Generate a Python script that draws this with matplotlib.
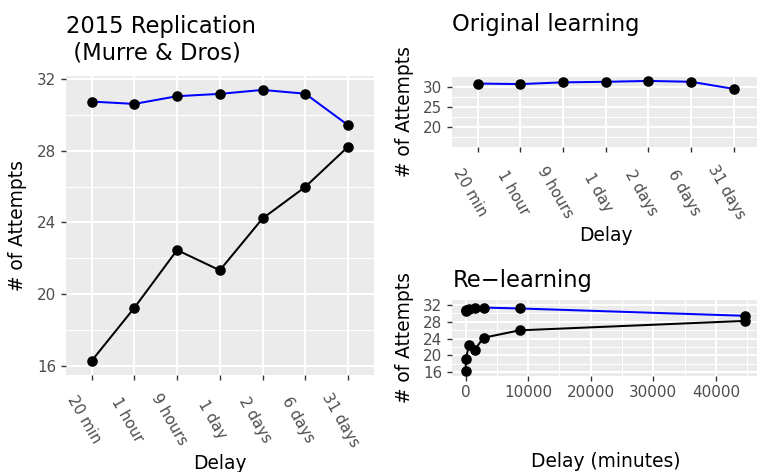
import matplotlib
matplotlib.use("Agg")
import matplotlib.pyplot as plt
from matplotlib.ticker import FixedLocator, MultipleLocator

# Retention delays and mean number of attempts per condition
delays = ["20 min", "1 hour", "9 hours", "1 day", "2 days", "6 days", "31 days"]
delay_minutes = [20, 60, 540, 1440, 2880, 8640, 44640]
original = [30.74, 30.61, 31.04, 31.17, 31.39, 31.18, 29.43]
relearning = [16.28, 19.24, 22.46, 21.33, 24.22, 25.98, 28.22]

plt.rcParams["font.family"] = ["DejaVu Sans"]

W, H = 757, 472
fig = plt.figure(figsize=(W / 100, H / 100), dpi=100)

PANEL = "#EBEBEB"
TICK_COL = "#333333"
LABEL_COL = "#4D4D4D"
TITLE_FS = 16.3
AXTITLE_FS = 13.4
TICK_FS = 10.9
LW = 1.45
MS = 6.6


def px_axes(x0, y0, x1, y1):
    return fig.add_axes([x0 / W, 1 - y1 / H, (x1 - x0) / W, (y1 - y0) / H])


def style(ax):
    ax.set_facecolor(PANEL)
    for s in ax.spines.values():
        s.set_visible(False)
    ax.set_axisbelow(True)
    ax.grid(which="major", color="white", linewidth=1.5)
    ax.grid(which="minor", color="white", linewidth=0.75)
    ax.tick_params(which="major", length=3.6, width=1.0, color=TICK_COL,
                   labelcolor=LABEL_COL, labelsize=TICK_FS, pad=3.4)
    ax.tick_params(which="minor", length=0)


def category_axis(ax):
    ax.set_xlim(-0.6, len(delays) - 0.4)
    ax.set_xticks(range(len(delays)))
    ax.set_xticklabels([""] * len(delays))
    for i, lab in enumerate(delays):
        ax.annotate(lab, xy=(i, 0), xycoords=ax.get_xaxis_transform(),
                    xytext=(-5.4, -32.6), textcoords="offset points",
                    rotation=-60, rotation_mode="anchor", ha="center",
                    va="center", fontsize=TICK_FS, color=LABEL_COL)


def draw_pair(ax, x):
    ax.plot(x, original, color="#0000FF", lw=LW, zorder=2)
    ax.plot(x, relearning, color="black", lw=LW, zorder=2)
    ax.plot(x, original, "o", color="black", ms=MS, zorder=3)
    ax.plot(x, relearning, "o", color="black", ms=MS, zorder=3)


# Left panel: both learning phases by delay category
ax1 = px_axes(66, 76.3, 373.6, 374.5)
style(ax1)
draw_pair(ax1, range(len(delays)))
category_axis(ax1)
ax1.set_ylim(15.52, 32.15)
ax1.yaxis.set_major_locator(FixedLocator([16, 20, 24, 28, 32]))
ax1.yaxis.set_minor_locator(FixedLocator([18, 22, 26, 30]))

# Top right: original learning only
ax2 = px_axes(452, 76, 759.4, 147.3)
style(ax2)
ax2.plot(range(len(delays)), original, color="#0000FF", lw=LW, zorder=2)
ax2.plot(range(len(delays)), original, "o", color="black", ms=MS, zorder=3)
category_axis(ax2)
ax2.set_ylim(15.07, 32.6)
ax2.yaxis.set_major_locator(FixedLocator([20, 25, 30]))
ax2.yaxis.set_minor_locator(FixedLocator([17.5, 22.5, 27.5, 32.5]))

# Bottom right: both phases against delay in minutes
ax3 = px_axes(451.7, 300, 759, 375.7)
style(ax3)
draw_pair(ax3, delay_minutes)
ax3.set_xlim(-2211, 46871)
ax3.set_ylim(15.19, 33.19)
ax3.xaxis.set_major_locator(MultipleLocator(10000))
ax3.xaxis.set_minor_locator(FixedLocator([5000, 15000, 25000, 35000, 45000]))
ax3.yaxis.set_major_locator(FixedLocator([16, 20, 24, 28, 32]))
ax3.yaxis.set_minor_locator(FixedLocator([18, 22, 26, 30]))

# Titles (the two-line title is anchored on its lower baseline)
fig.text(66 / W, 1 - 59.3 / H, "2015 Replication\n (Murre & Dros)",
         fontsize=TITLE_FS, ha="left", va="baseline", linespacing=1.2)
fig.text(452.3 / W, 1 - 30.7 / H, "Original learning",
         fontsize=TITLE_FS, ha="left", va="baseline")
fig.text(452.3 / W, 1 - 286.7 / H, "Re\u2212learning",
         fontsize=TITLE_FS, ha="left", va="baseline")

# Axis titles
fig.text(219.8 / W, 1 - 469.3 / H, "Delay", fontsize=AXTITLE_FS,
         ha="center", va="baseline")
fig.text(605.7 / W, 1 - 240.7 / H, "Delay", fontsize=AXTITLE_FS,
         ha="center", va="baseline")
fig.text(605.5 / W, 1 - 467.3 / H, "Delay (minutes)", fontsize=AXTITLE_FS,
         ha="center", va="baseline")
for xc, yc in [(17.5, 225.4), (404.5, 111.7), (404.5, 338.0)]:
    fig.text(xc / W, 1 - yc / H, "# of Attempts", fontsize=AXTITLE_FS,
             rotation=90, ha="center", va="center")

fig.savefig("out.png", dpi=100)
